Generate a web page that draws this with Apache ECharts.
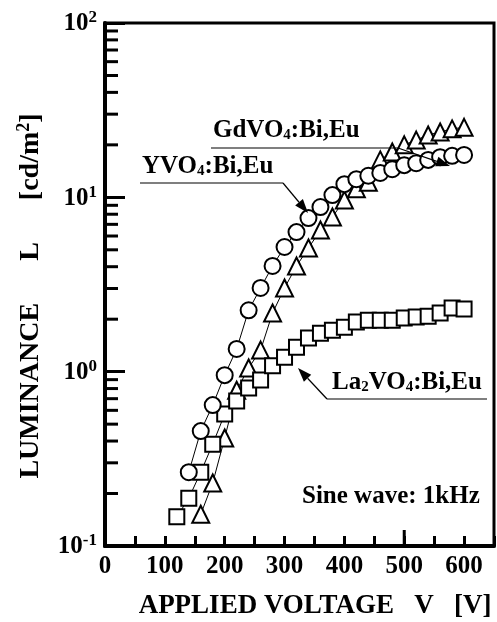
<!DOCTYPE html>
<html>
<head>
<meta charset="utf-8">
<script src="https://cdn.jsdelivr.net/npm/echarts@6/dist/echarts.min.js"></script>
<style>
  html, body { margin: 0; padding: 0; background: #fff; }
  #main { width: 497px; height: 622px; }
</style>
</head>
<body>
<div id="main"></div>
<script>
// YVO4:Bi,Eu (circles)
var yvoVolts = [140, 160, 180, 200, 220, 240, 260, 280, 300, 320, 340, 360, 380, 400,
  420, 440, 460, 480, 500, 520, 540, 560, 580, 600];
var yvoLum = [0.265, 0.456, 0.643, 0.955, 1.35, 2.25, 3.02, 4.04, 5.19, 6.32, 7.6, 8.8, 10.3, 11.9,
  12.7, 13.3, 13.8, 14.5, 15.3, 15.7, 16.4, 17.0, 17.3, 17.5];

// GdVO4:Bi,Eu (triangles)
var gdvoVolts = [160, 180, 200, 220, 240, 260, 280, 300, 320, 340, 360, 380, 400,
  420, 440, 460, 480, 500, 520, 540, 560, 580, 600];
var gdvoLum = [0.152, 0.23, 0.416, 0.783, 1.05, 1.33, 2.17, 3.02, 4.04, 5.12, 6.49, 7.71, 9.65,
  11.2, 12.2, 16.4, 18.2, 20.0, 21.3, 22.8, 23.7, 24.7, 25.2];

// La2VO4:Bi,Eu (squares)
var lavoVolts = [120, 140, 160, 180, 200, 220, 240, 260, 280, 300, 320, 340, 360, 380, 400,
  420, 440, 460, 480, 500, 520, 540, 560, 580, 600];
var lavoLum = [0.147, 0.188, 0.265, 0.384, 0.571, 0.678, 0.805, 0.895, 1.08, 1.21, 1.38, 1.56, 1.66, 1.73, 1.8,
  1.93, 1.97, 1.97, 1.97, 2.03, 2.06, 2.08, 2.17, 2.32, 2.29];

// minor ticks of the log axis
var minorTicks = [0.2, 0.3, 0.4, 0.5, 0.6, 0.7, 0.8, 0.9, 2, 3, 4, 5, 6, 7, 8, 9,
  20, 30, 40, 50, 60, 70, 80, 90];
// the one longer tick on the voltage axis
var longTicks = [500];

var FONT = '"Liberation Serif", "Times New Roman", serif';

function pairs(xs, ys) {
  return xs.map(function (x, i) { return [x, ys[i]]; });
}

function markerSeries(name, symbol, size, xs, ys) {
  return {
    name: name,
    type: 'line',
    data: pairs(xs, ys),
    symbol: symbol,
    symbolSize: size,
    showAllSymbol: true,
    lineStyle: { color: '#000', width: 1 },
    itemStyle: { color: '#fff', borderColor: '#000', borderWidth: 2 },
    animation: false
  };
}

function arrow(x1, y1, x2, y2) {
  var ang = Math.atan2(y2 - y1, x2 - x1);
  var L = 14, W = 5;
  var bx = x2 - L * Math.cos(ang), by = y2 - L * Math.sin(ang);
  var px = -Math.sin(ang) * W, py = Math.cos(ang) * W;
  return [
    { type: 'line', z: 100, shape: { x1: x1, y1: y1, x2: bx, y2: by }, style: { stroke: '#000', lineWidth: 1.2 } },
    { type: 'polygon', z: 100, shape: { points: [[x2, y2], [bx + px, by + py], [bx - px, by - py]] }, style: { fill: '#000' } }
  ];
}

var richLabel = {
  t: { fontFamily: FONT, fontWeight: 'bold', fontSize: 25, color: '#000', lineHeight: 27, verticalAlign: 'bottom' },
  sub: { fontFamily: FONT, fontWeight: 'bold', fontSize: 15, color: '#000', lineHeight: 22, verticalAlign: 'bottom' }
};

function annot(x, y, txt) {
  return {
    type: 'text', x: x, y: y, z: 100,
    style: { text: txt, rich: richLabel, verticalAlign: 'bottom' }
  };
}

function hline(x1, x2, y) {
  return { type: 'line', z: 100, shape: { x1: x1, y1: y, x2: x2, y2: y }, style: { stroke: '#000', lineWidth: 1.2 } };
}

var graphics = [];
graphics.push(annot(142, 179, '{t|YVO}{sub|4}{t|:Bi,Eu}'));
graphics.push(hline(140, 283, 183));
graphics = graphics.concat(arrow(283, 183, 308, 213));

graphics.push(annot(213, 143, '{t|GdVO}{sub|4}{t|:Bi,Eu}'));
graphics.push(hline(211, 398, 148));
graphics = graphics.concat(arrow(398, 148, 450, 166));

graphics.push(annot(332, 395, '{t|La}{sub|2}{t|VO}{sub|4}{t|:Bi,Eu}'));
graphics.push(hline(327, 487, 399));
graphics = graphics.concat(arrow(327, 399, 298, 368));

graphics.push({
  type: 'text', x: 302, y: 497, z: 100,
  style: { text: 'Sine wave: 1kHz', font: 'bold 25px ' + FONT, fill: '#000', verticalAlign: 'middle' }
});

// y-axis title (rotated)
graphics.push({
  type: 'text', x: 30, y: 296, rotation: Math.PI / 2,
  style: {
    text: '{t|LUMINANCE      L      [cd/m}{sup|2}{t|]}',
    align: 'center', verticalAlign: 'middle',
    rich: {
      t: { fontFamily: FONT, fontWeight: 'bold', fontSize: 28, color: '#000', lineHeight: 30, verticalAlign: 'bottom' },
      sup: { fontFamily: FONT, fontWeight: 'bold', fontSize: 18, color: '#000', lineHeight: 30, verticalAlign: 'top' }
    }
  }
});

// x-axis title
graphics.push({
  type: 'text', x: 315, y: 606,
  style: {
    text: 'APPLIED VOLTAGE   V   [V]', font: 'bold 27px ' + FONT, fill: '#000',
    align: 'center', verticalAlign: 'middle'
  }
});

var myChart = echarts.init(document.getElementById('main'), null, { renderer: 'canvas' });

function tickSeries(data, horizontal, len) {
  return {
    type: 'custom',
    silent: true,
    clip: false,
    z: 10,
    data: data,
    renderItem: function (params, api) {
      var p = api.coord([api.value(0), api.value(1)]);
      return {
        type: 'line',
        shape: horizontal
          ? { x1: p[0], y1: p[1], x2: p[0] + len, y2: p[1] }
          : { x1: p[0], y1: p[1], x2: p[0], y2: p[1] - len },
        style: { stroke: '#000', lineWidth: 3 }
      };
    }
  };
}

var option = {
  animation: false,
  backgroundColor: '#fff',
  grid: {
    left: 105, top: 23, width: 395, height: 523,
    show: true, borderColor: '#000', borderWidth: 3
  },
  xAxis: {
    type: 'value', min: 0, max: 650, interval: 50,
    splitLine: { show: false },
    axisLine: { lineStyle: { color: '#000', width: 4 } },
    axisTick: { inside: true, length: 10, lineStyle: { color: '#000', width: 3 } },
    axisLabel: {
      margin: 8, color: '#000', fontFamily: FONT, fontWeight: 'bold', fontSize: 25,
      formatter: function (v) { return (v % 100 === 0 && v <= 600) ? String(v) : ''; }
    }
  },
  yAxis: {
    type: 'log', logBase: 10, min: 0.1, max: 100,
    splitLine: { show: false },
    axisLine: { lineStyle: { color: '#000', width: 4 } },
    axisTick: { inside: true, length: 20, lineStyle: { color: '#000', width: 3 } },
    axisLabel: {
      margin: 8, color: '#000',
      formatter: function (v) {
        var e = Math.round(Math.log10(v));
        return '{b|10}{s|' + e + '}';
      },
      rich: {
        b: { fontFamily: FONT, fontWeight: 'bold', fontSize: 25, color: '#000', lineHeight: 27, verticalAlign: 'bottom' },
        s: { fontFamily: FONT, fontWeight: 'bold', fontSize: 17, color: '#000', lineHeight: 27, verticalAlign: 'top' }
      }
    }
  },
  series: [
    markerSeries('GdVO4:Bi,Eu', 'triangle', 17, gdvoVolts, gdvoLum),
    markerSeries('La2VO4:Bi,Eu', 'rect', 15, lavoVolts, lavoLum),
    markerSeries('YVO4:Bi,Eu', 'circle', 16, yvoVolts, yvoLum),
    tickSeries(minorTicks.map(function (v) { return [0, v]; }), true, 13),
    tickSeries(longTicks.map(function (v) { return [v, 0.1]; }), false, 16)
  ],
  graphic: graphics
};

myChart.setOption(option);
</script>
</body>
</html>
